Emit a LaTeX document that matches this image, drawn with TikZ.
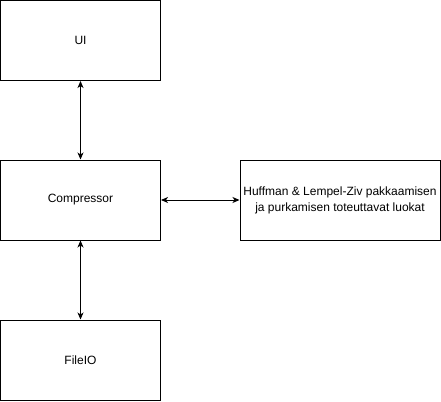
\documentclass[tikz,border=0pt]{standalone}
\usepackage{fontspec}
\setmainfont{Liberation Sans}
\usetikzlibrary{arrows.meta}

\begin{document}
\begin{tikzpicture}[x=1pt, y=-1pt,
    box/.style={draw, line width=1pt, minimum width=160pt, minimum height=80pt, inner sep=0pt, align=center},
    link/.style={<->, line width=1pt, >={Stealth[length=7pt, width=6pt, inset=2pt]}}]

  \fontsize{12}{16}\selectfont

  \useasboundingbox (0, 0) rectangle (441, 401);

  \node[box] (ui) at (80.5, 40.5) {UI};
  \node[box] (compressor) at (80.5, 200) {Compressor};
  \node[box] (fileio) at (80.5, 360) {FileIO};
  \node[box, minimum width=200pt] (luokat) at (340, 200) {Huffman \& Lempel-Ziv pakkaamisen\\ja purkamisen toteuttavat luokat};

  \draw[link] (ui) -- (compressor); % UI<->Compressor
  \draw[link] (compressor) -- (fileio); % Compressor<->FileIO
  \draw[link] (compressor) -- (luokat); % Compressor<->luokat

\end{tikzpicture}
\end{document}
